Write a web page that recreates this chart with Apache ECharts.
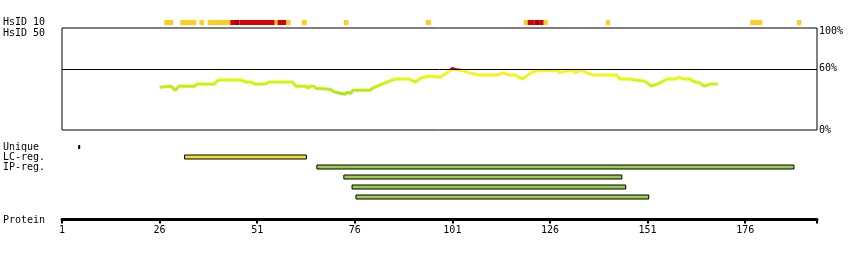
<!DOCTYPE html>
<html>
<head>
<meta charset="utf-8">
<script src="https://cdn.jsdelivr.net/npm/echarts@6/dist/echarts.min.js"></script>
<style>
html, body { margin: 0; padding: 0; background: #fff; }
#main { width: 850px; height: 260px; }
</style>
</head>
<body>
<div id="main"></div>
<script>
// residue axis
var axisMin = 1;
var axisMax = 194.4;
var tickLabels = [1, 26, 51, 76, 101, 126, 151, 176];
var pctLabels = [0, 60, 100];

// HsID 10 strip: [from, to, level]  (1 = low, 2 = high, 3 = highest)
var hsid10 = [
	[27.2, 29.5, 1], [31.3, 35.4, 1], [36.2, 37.4, 1], [38.3, 44.1, 1],
	[44.1, 45.3, 2], [45.3, 46.5, 3], [46.5, 55.5, 2], [55.5, 56.2, 1],
	[56.2, 58.5, 2], [58.5, 59.6, 1], [62.4, 63.7, 1], [73.2, 74.4, 1],
	[94.2, 95.5, 1], [119.3, 120.3, 1], [120.3, 122.1, 2], [122.1, 123.4, 3],
	[123.4, 124.4, 2], [124.4, 125.4, 1], [140.3, 141.4, 1], [177.3, 180.4, 1],
	[189.3, 190.4, 1]
];

// HsID 50 identity (%), [residue, percent]
var identity = [
	[26, 42], [29, 43], [30, 39], [31, 43], [35, 43], [35.5, 45], [40, 45], [41, 49],
	[47, 49], [48, 47], [49.5, 47], [50.5, 45], [53, 45], [54, 47], [60, 47], [61, 43],
	[63.5, 43], [64, 41], [64.5, 43], [65.5, 43], [66, 41], [69.5, 40], [71, 37], [73.5, 35],
	[74, 37], [75, 36], [75.5, 39], [80, 39], [80.5, 41], [85.5, 49], [86.5, 50], [90, 50],
	[91.5, 47], [93, 51], [95, 53], [98, 52], [100, 57], [101, 60.5], [102, 59], [104, 58],
	[105.5, 56], [107.5, 54], [112.5, 54], [114, 56], [115.5, 54], [117, 54], [119, 50], [120, 53],
	[121.5, 57], [123, 58], [128, 58], [128.5, 56], [130, 58], [132, 58], [132.5, 56], [133.5, 58],
	[134.5, 58], [135.5, 56], [137, 54], [140, 54], [140.5, 55], [141.5, 54], [143, 54], [144, 50],
	[146.5, 50], [148, 49], [150, 48], [151, 46], [152, 43], [154, 46], [156, 50], [158, 50],
	[159, 52], [160, 50], [162, 50], [162.5, 48], [164.5, 46], [165.5, 43], [167, 45], [169, 45]
];

// feature tracks
var trackRows = ['Unique', 'LC-reg.', 'IP-reg.', '', '', ''];
var uniqueSites = [5.4];
var lcRegions = [[32.4, 63.6]];
var ipRegions = [[66.3, 188.5], [73.2, 144.4], [75.3, 145.4], [76.3, 151.3]];

var font = 'DejaVu Sans Mono';
var levelColors = { 1: '#FFCC22', 2: '#DD0000', 3: '#AA0000' };

var stripData = hsid10.map(function (d) {
	return { value: [d[0], d[1], 0], itemStyle: { color: levelColors[d[2]] } };
});

var trackData = [];
uniqueSites.forEach(function (p) {
	trackData.push({ value: [p, p, 0, 0], itemStyle: { color: '#000' } });
});
lcRegions.forEach(function (r) {
	trackData.push({ value: [r[0], r[1], 1, 1], itemStyle: { color: '#EEDD33' } });
});
ipRegions.forEach(function (r, i) {
	trackData.push({ value: [r[0], r[1], 2 + i, 1], itemStyle: { color: '#9ACD50' } });
});

var myChart = echarts.init(document.getElementById('main'));

function hiddenX(idx) {
	return { type: 'value', gridIndex: idx, min: axisMin, max: axisMax, show: false };
}

var option = {
	animation: false,
	backgroundColor: '#fff',
	textStyle: { fontFamily: font },
	grid: [
		{ left: 62, right: 33, top: 20, height: 5 },
		{ left: 62, right: 33, top: 28, height: 102, show: true, borderColor: '#000', borderWidth: 1 },
		{ left: 62, right: 33, top: 142, height: 60 },
		{ left: 62, right: 33, top: 210, height: 9.5 }
	],
	xAxis: [
		hiddenX(0), hiddenX(1), hiddenX(2),
		{
			type: 'value', gridIndex: 3, min: axisMin, max: axisMax,
			axisLine: { lineStyle: { color: '#000', width: 3 } },
			axisTick: { customValues: tickLabels.concat([axisMax]), length: 4, lineStyle: { color: '#000', width: 2 } },
			axisLabel: { customValues: tickLabels, margin: 6, color: '#000', fontFamily: font, fontSize: 10 },
			splitLine: { show: false }
		}
	],
	yAxis: [
		{
			type: 'category', gridIndex: 0, data: ['HsID 10'],
			axisLine: { show: false }, axisTick: { show: false },
			axisLabel: { align: 'left', margin: 59, color: '#000', fontFamily: font, fontSize: 10 }
		},
		{
			type: 'value', gridIndex: 1, min: 0, max: 100, position: 'right',
			axisLine: { show: false }, axisTick: { show: false }, splitLine: { show: false },
			axisLabel: {
				customValues: pctLabels, margin: 2, color: '#000', fontFamily: font, fontSize: 10,
				formatter: function (v) { return v === 100 ? '{top|100%}' : v + '%'; },
				rich: { top: { padding: [6, 0, 0, 0], fontFamily: font, fontSize: 10, color: '#000' } }
			}
		},
		{
			type: 'category', gridIndex: 2, data: trackRows, inverse: true,
			axisLine: { show: false }, axisTick: { show: false },
			axisLabel: { interval: 0, align: 'left', margin: 59, color: '#000', fontFamily: font, fontSize: 10 }
		},
		{ type: 'value', gridIndex: 3, show: false }
	],
	graphic: [
		{ type: 'text', x: 3, y: 33, style: { text: 'HsID 50', font: '10px ' + font, fill: '#000', verticalAlign: 'middle' } },
		{ type: 'text', x: 3, y: 220, style: { text: 'Protein', font: '10px ' + font, fill: '#000', verticalAlign: 'middle' } }
	],
	visualMap: {
		type: 'piecewise', show: false, seriesIndex: 1, dimension: 1,
		pieces: [
			{ lt: 37, color: '#A6E61A' },
			{ gte: 37, lt: 41, color: '#B4EC14' },
			{ gte: 41, lt: 45, color: '#C4F010' },
			{ gte: 45, lt: 49, color: '#D4F40C' },
			{ gte: 49, lt: 52, color: '#E4F80A' },
			{ gte: 52, lt: 55, color: '#F2F814' },
			{ gte: 55, lt: 60, color: '#FAF222' },
			{ gte: 60, color: '#DD0000' }
		]
	},
	series: [
		{
			type: 'custom', xAxisIndex: 0, yAxisIndex: 0, data: stripData,
			renderItem: function (params, api) {
				var a = api.coord([api.value(0), 0]);
				var b = api.coord([api.value(1), 0]);
				return {
					type: 'rect',
					shape: { x: a[0], y: a[1] - 2.5, width: b[0] - a[0], height: 5 },
					style: { fill: api.visual('color') }
				};
			}
		},
		{
			type: 'line', xAxisIndex: 1, yAxisIndex: 1, data: identity,
			symbol: 'none', lineStyle: { width: 3 },
			markLine: {
				silent: true, symbol: 'none', label: { show: false },
				lineStyle: { color: '#000', width: 1, type: 'solid' },
				data: [{ yAxis: 60 }]
			}
		},
		{
			type: 'custom', xAxisIndex: 2, yAxisIndex: 2, data: trackData,
			renderItem: function (params, api) {
				var a = api.coord([api.value(0), api.value(2)]);
				var b = api.coord([api.value(1), api.value(2)]);
				if (api.value(3) === 0) {
					// single-residue mark
					return {
						type: 'rect',
						shape: { x: a[0] - 1, y: a[1] - 2, width: 2, height: 4 },
						style: { fill: '#000' }
					};
				}
				return {
					type: 'rect',
					shape: { x: a[0], y: a[1] - 2, width: b[0] - a[0], height: 4 },
					style: { fill: api.visual('color'), stroke: '#000', lineWidth: 1 }
				};
			}
		}
	]
};
myChart.setOption(option);
</script>
</body>
</html>
